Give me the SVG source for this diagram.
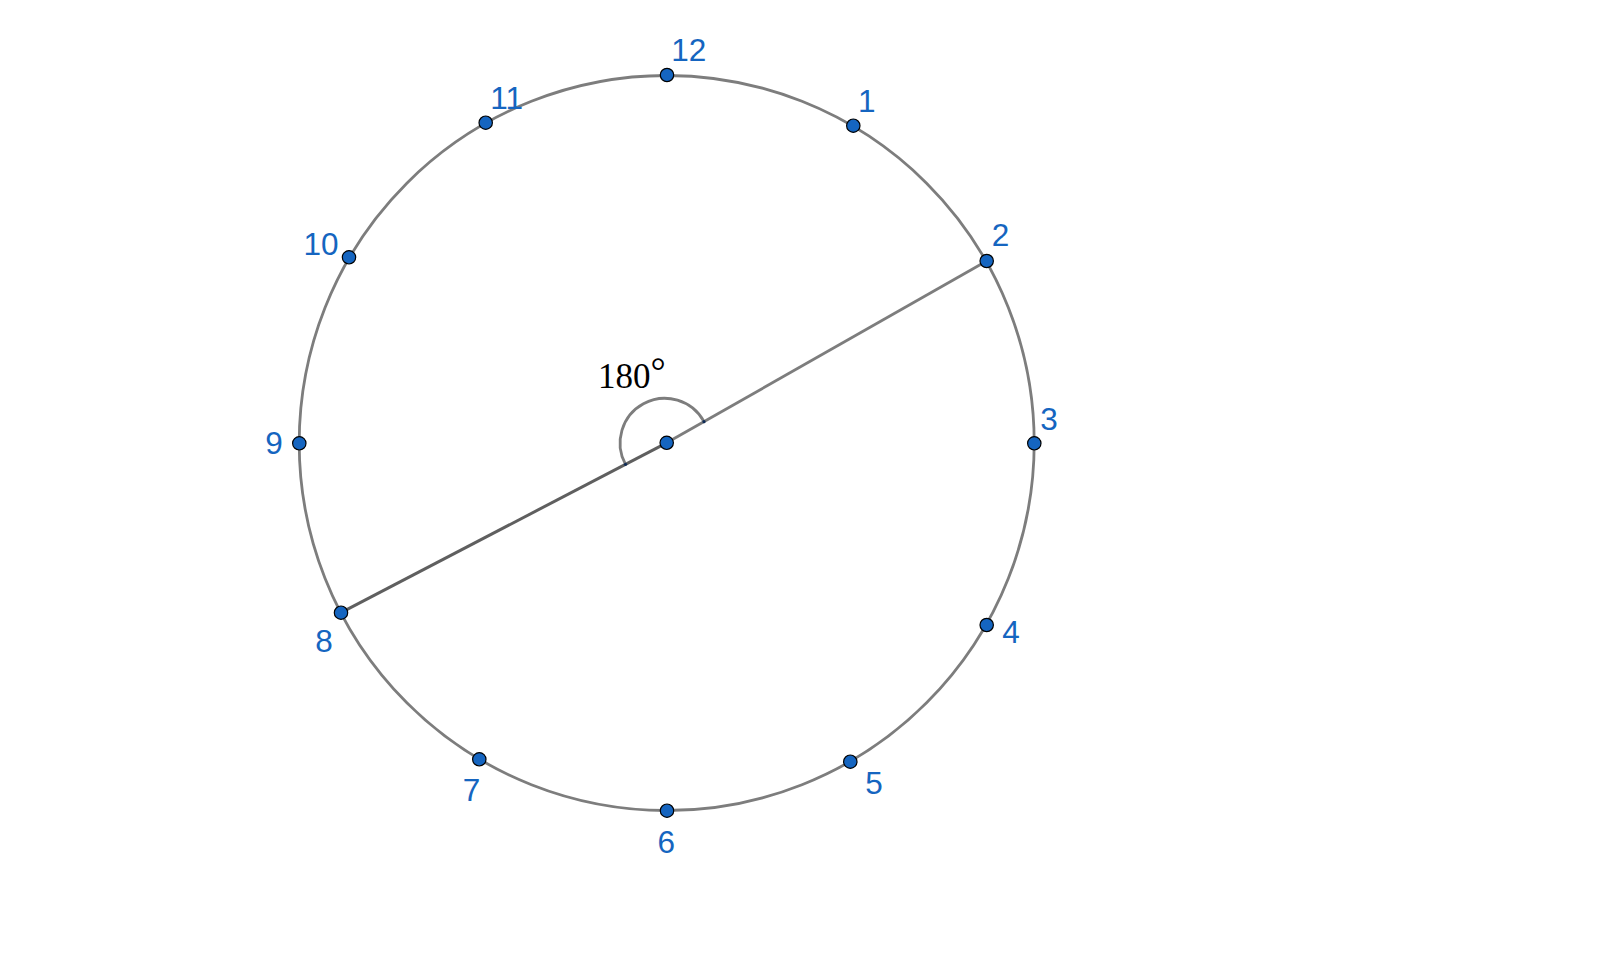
<svg xmlns="http://www.w3.org/2000/svg" width="1600" height="954" viewBox="0 0 1600 954">
<style>
.lbl{font-family:"Liberation Sans",Arial,sans-serif;font-size:31.5px;fill:#1565c0}
.pt{fill:#1565c0;stroke:#000;stroke-width:1.2}
.ang{font-family:"Liberation Serif","Times New Roman",serif;font-size:35px;fill:#000}
</style>
<rect width="1600" height="954" fill="#fff"/>
<g id="connectors" fill="none">
<circle id="circle" cx="666.7" cy="443" r="367.5" stroke="#7d7d7d" stroke-width="2.8"/>
<line x1="666.7" y1="442.8" x2="986.7" y2="261" stroke="#7d7d7d" stroke-width="2.8"/>
<line x1="341" y1="612.7" x2="666.7" y2="442.8" stroke="#5f5f5f" stroke-width="3"/>
<path d="M704,421.7 A44.6,44.6 0 1 0 625.5,464.3" stroke="#7d7d7d" stroke-width="2.8"/>
<circle cx="704" cy="421.7" r="1.6" fill="#0d2a55"/>
<circle cx="625.5" cy="464.3" r="1.6" fill="#0d2a55"/>
</g>
<g id="angle-label"><text class="ang" x="598" y="388">180<tspan font-size="38" dy="-4">°</tspan></text></g>
<g id="center"><circle class="pt" cx="666.7" cy="442.8" r="6.7"/></g>
<g id="p12"><circle class="pt" cx="667" cy="75" r="6.7"/><text class="lbl" x="671.3" y="60.7">12</text></g>
<g id="p1"><circle class="pt" cx="853.3" cy="125.7" r="6.7"/><text class="lbl" x="858" y="111.7">1</text></g>
<g id="p2"><circle class="pt" cx="986.7" cy="261" r="6.7"/><text class="lbl" x="991.8" y="245.7">2</text></g>
<g id="p3"><circle class="pt" cx="1034.3" cy="443.3" r="6.7"/><text class="lbl" x="1040.2" y="430">3</text></g>
<g id="p4"><circle class="pt" cx="986.7" cy="625" r="6.7"/><text class="lbl" x="1002.3" y="643.3">4</text></g>
<g id="p5"><circle class="pt" cx="850.3" cy="761.7" r="6.7"/><text class="lbl" x="865.3" y="794">5</text></g>
<g id="p6"><circle class="pt" cx="667" cy="810.7" r="6.7"/><text class="lbl" x="657.5" y="852.7">6</text></g>
<g id="p7"><circle class="pt" cx="479.3" cy="759.3" r="6.7"/><text class="lbl" x="462.8" y="801">7</text></g>
<g id="p8"><circle class="pt" cx="341" cy="612.7" r="6.7"/><text class="lbl" x="315.3" y="651.7">8</text></g>
<g id="p9"><circle class="pt" cx="299.3" cy="443.3" r="6.7"/><text class="lbl" x="265.3" y="454.3">9</text></g>
<g id="p10"><circle class="pt" cx="349" cy="257.3" r="6.7"/><text class="lbl" x="303.5" y="255">10</text></g>
<g id="p11"><circle class="pt" cx="485.7" cy="122.7" r="6.7"/><text class="lbl" x="490.3" y="109.3">11</text></g>
</svg>
